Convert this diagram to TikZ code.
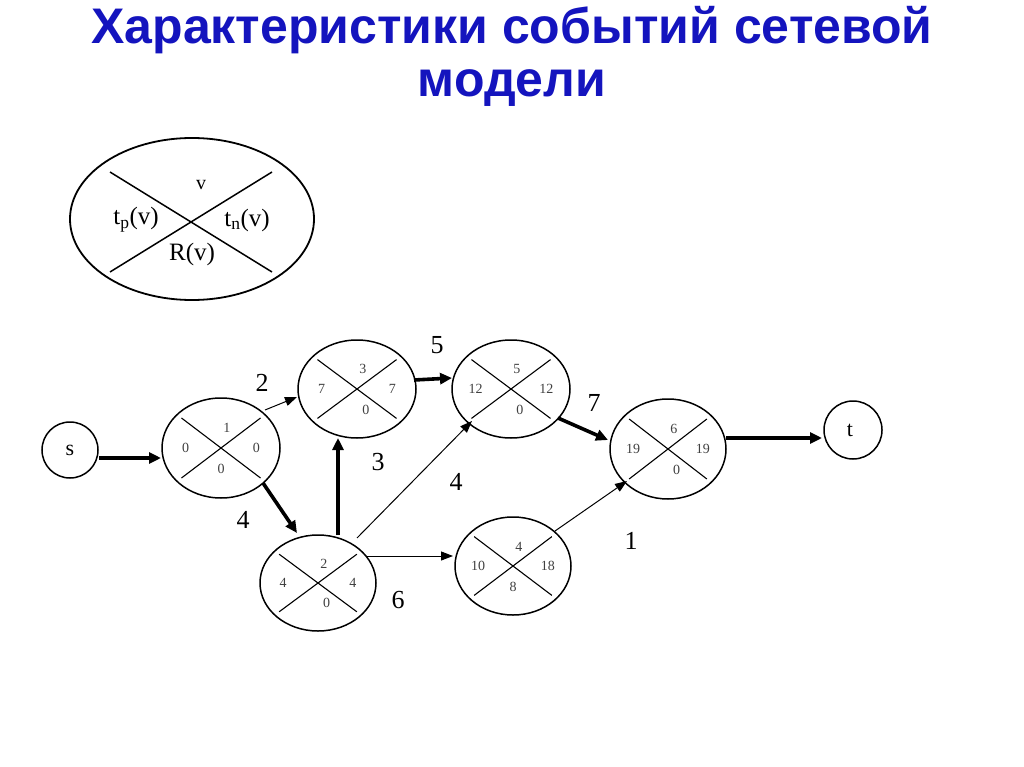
\documentclass[tikz,border=0pt]{standalone}
\usepackage{fontspec}
\setmainfont{Liberation Serif}
\newfontfamily\titlefont{Liberation Sans}
\usetikzlibrary{arrows.meta,calc}
\definecolor{ttl}{RGB}{20,20,190}
\newcommand{\evnode}[8]{% name, x, y, rx, ry, top, left, right
  \draw[line width=1.5pt] (#2,#3) ellipse [x radius=#4, y radius=#5];
  \coordinate (#1) at (#2,#3);
  \draw[line width=1.1pt] ($(#2,#3)+(-0.67*#4,-0.6*#5)$) -- ($(#2,#3)+(0.67*#4,0.6*#5)$);
  \draw[line width=1.1pt] ($(#2,#3)+(-0.67*#4,0.6*#5)$) -- ($(#2,#3)+(0.67*#4,-0.6*#5)$);
  \node[num] at ($(#2,#3)+(0.1*#4,-0.4*#5)$) {#6};
  \node[num] at ($(#2,#3)+(-0.6*#4,0)$) {#7};
  \node[num] at ($(#2,#3)+(0.6*#4,0)$) {#8};
}
\newcommand{\evbot}[4]{\node[num] at ($(#1)+(#2*0.15,#3*0.42)$) {#4};}
\begin{document}
\begin{tikzpicture}[x=1pt,y=-1pt,
  num/.style={font=\fontsize{14}{14}\selectfont, text=black!75},
  lab/.style={font=\fontsize{26}{26}\selectfont},
  thick1/.style={line width=3.6pt,-{Triangle[length=12pt,width=11pt]}},
  thin1/.style={line width=1pt,-{Triangle[length=12pt,width=9pt]}}]
\useasboundingbox (0,0) rectangle (1024,767);
\node[text=ttl,font=\titlefont\bfseries\fontsize{50}{50}\selectfont] (title1) at (512,30) {Характеристики событий сетевой};
\node[text=ttl,font=\titlefont\bfseries\fontsize{50}{50}\selectfont] (title2) at (512,88) {модели};
% legend
\draw[line width=1.8pt] (192,219) ellipse [x radius=122, y radius=81];
\draw[line width=1.5pt] (110,172) -- (272,272);
\draw[line width=1.5pt] (110,272) -- (272,172);
\node[font=\fontsize{20}{20}\selectfont] (lv) at (201,185) {v};
\node[font=\fontsize{25}{25}\selectfont] (ltp) at (136,220) {t\textsubscript{p}(v)};
\node[font=\fontsize{25}{25}\selectfont] (ltn) at (247,220) {t\textsubscript{n}(v)};
\node[font=\fontsize{25}{25}\selectfont] (lr) at (192,254) {R(v)};
% nodes
\draw[line width=1.5pt] (70,450) circle [radius=28];
\node[font=\fontsize{22}{22}\selectfont] (s) at (70,450) {s};
\draw[line width=1.5pt] (853,430) circle [radius=29];
\node[font=\fontsize{22}{22}\selectfont] (t) at (850,430) {t};
\evnode{n1}{221}{448}{59}{50}{1}{0}{0}\evbot{n1}{0}{50}{0}
\evnode{n3}{357}{389}{59}{49}{3}{7}{7}\evbot{n3}{59}{49}{0}
\evnode{n5}{511}{389}{59}{49}{5}{12}{12}\evbot{n5}{59}{49}{0}
\evnode{n2}{318}{583}{58}{48}{2}{4}{4}\evbot{n2}{58}{48}{0}
\evnode{n4}{513}{566}{58}{49}{4}{10}{18}\evbot{n4}{0}{49}{8}
\evnode{n6}{668}{449}{58}{50}{6}{19}{19}\evbot{n6}{58}{50}{0}
% edges
\draw[thick1] (99,458) -- (161,458);
\draw[thin1] (265,410) -- (297,397);
\draw[thick1] (263,483) -- (297,533);
\draw[thick1] (338,535) -- (338,438);
\draw[thick1] (414,380) -- (452,378);
\draw[thin1] (357,538) -- (472,421);
\draw[thin1] (367,556) -- (453,556);
\draw[thick1] (558,418) -- (608,440);
\draw[thin1] (555,531) -- (627,481);
\draw[thick1] (726,438) -- (822,438);
% labels
\node[lab] (l2) at (262,383) {2};
\node[lab] (l4a) at (243,520) {4};
\node[lab] (l3) at (378,462) {3};
\node[lab] (l5) at (437,345) {5};
\node[lab] (l4b) at (456,482) {4};
\node[lab] (l6) at (398,600) {6};
\node[lab] (l7) at (594,403) {7};
\node[lab] (l1) at (631,541) {1};
\end{tikzpicture}
\end{document}
